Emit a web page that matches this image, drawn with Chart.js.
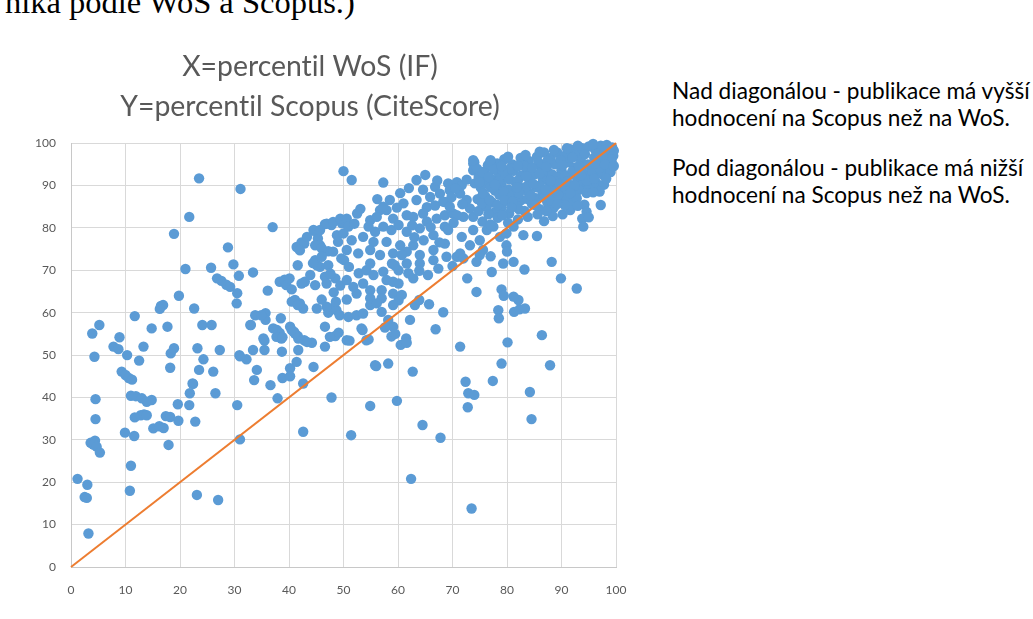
<!DOCTYPE html>
<html>
<head>
<meta charset="utf-8">
<script src="https://cdn.jsdelivr.net/npm/chart.js@4"></script>
<style>
  html, body { margin: 0; padding: 0; }
  body { width: 1033px; height: 619px; overflow: hidden; background: #ffffff; position: relative; }
  #chart { position: absolute; left: 0; top: 0; }
  .cut-heading { position: absolute; left: 5px; top: -14px; font-family: "Liberation Serif", serif; font-size: 32.5px; line-height: 32px; color: #000; white-space: nowrap; }
  .note { position: absolute; left: 672px; font-family: Lato, "Open Sans", sans-serif; font-size: 22.6px; line-height: 27.4px; color: #000; white-space: nowrap; }
</style>
</head>
<body>
<div class="cut-heading">nika podle WoS a Scopus.)</div>
<canvas id="chart" width="643" height="619"></canvas>
<div class="note" style="top: 77px;">Nad diagonálou - publikace má vyšší<br>hodnocení na Scopus než na WoS.</div>
<div class="note" style="top: 153.5px;">Pod diagonálou - publikace má nižší<br>hodnocení na Scopus než na WoS.</div>
<script>
// [x = percentil WoS (IF), y = percentil Scopus (CiteScore)]
const lowerLeft = [
  [1.2,20.8],[3.0,19.4],[2.5,16.5],[2.9,16.3],[3.2,7.9],[4.5,39.6],[4.5,34.9],[3.6,29.3],[4.4,29.8],[4.1,28.9],
  [4.7,28.4],[5.3,27.0],[9.9,31.7],[11.6,30.9],[11.0,23.9],[10.8,18.0],[11.0,40.4],[11.9,40.3],[13.0,39.8],[13.9,39.0],
  [14.8,39.4],[11.7,35.3],[12.8,35.8],[13.4,36.0],[13.9,35.8],[15.1,32.7],[16.2,33.2],[17.0,32.8],[17.4,35.6],[18.2,35.4],
  [19.7,34.5],[17.9,28.8],[19.6,38.4],[21.7,38.2],[21.8,41.0],[22.4,43.2],[22.8,34.3],[23.1,17.0],[27.0,15.8],[26.5,41.0],
  [9.3,46.1],[10.0,45.3],[10.6,44.6],[11.2,44.2],[3.9,55.1],[5.2,57.1],[4.3,49.6],[8.9,54.2],[7.8,52.0],[8.7,51.4],
  [10.3,50.0],[12.5,48.7],[13.3,52.0],[14.8,56.3],[17.7,56.7],[18.3,50.4],[18.9,51.6],[18.2,47.0],[11.7,59.2],[16.5,61.6],
  [16.9,61.8],[16.3,60.9],[19.8,64.0],[21.0,70.3],[18.9,78.6],[21.7,82.6],[23.5,91.7],[22.6,61.0],[23.2,51.6],[24.3,49.0],
  [23.5,46.5],[24.1,57.1],[25.8,57.1],[27.3,51.2],[26.1,46.1],[22.3,43.3],[25.7,70.6],[26.8,68.1],[27.6,67.5],[28.5,66.6],
  [29.2,66.1],[28.8,75.4],[29.8,71.4]
];

const middle = [
  [31.1,89.2],[37.0,80.2],[30.8,68.7],[30.5,64.6],[30.4,62.2],[33.4,69.5],[30.9,50.0],[32.2,49.0],[33.4,51.2],[34.1,46.5],
  [33.6,44.1],[30.5,38.2],[31.0,30.1],[33.0,57.1],[33.8,59.4],[35.7,59.9],[35.7,58.3],[36.1,65.2],[35.5,53.4],[36.6,42.9],
  [37.9,39.8],[38.8,44.6],[38.7,50.8],[37.8,55.9],[38.3,55.2],[38.5,58.7],[38.3,67.3],[39.2,67.8],[39.5,66.5],[40.1,68.1],
  [40.5,65.5],[41.1,63.0],[42.0,62.2],[42.6,61.0],[42.9,67.3],[43.9,68.9],[44.8,66.5],[46.0,63.1],[45.1,61.0],[40.5,62.6],
  [41.6,61.8],[40.2,56.7],[40.9,55.5],[41.6,54.5],[42.8,53.5],[44.2,52.9],[43.3,53.1],[41.7,53.9],[41.1,55.1],[40.5,55.9],
  [38.6,53.9],[37.7,54.3],[37.1,56.3],[35.3,53.9],[35.5,51.2],[34.9,59.4],[32.9,57.1],[31.0,49.7],[41.7,51.2],[40.2,46.9],
  [41.4,48.4],[40.2,45.0],[42.6,43.3],[44.5,47.2],[42.6,31.9],[41.4,75.5],[42.3,76.6],[42.8,76.3],[41.6,71.2],[44.6,79.3],
  [45.3,77.5],[45.7,75.9],[44.8,72.4],[45.7,70.8],[46.6,68.5],[46.6,80.9],[47.2,74.5],[47.2,60.0],[46.6,56.7],[46.6,52.0],
  [47.8,80.7],[49.7,81.1],[44.5,79.5],[44.8,75.9],[46.0,75.2],[45.1,71.2],[46.0,73.2],[47.2,71.2],[46.9,66.9],[48.5,68.1],
  [47.8,61.0],[48.7,60.6],[46.9,61.4],[49.3,59.4],[48.5,54.5],[49.1,55.3],[47.5,54.3],[47.8,40.0],[42.3,66.9],[44.4,71.7],
  [43.3,77.9],[42.0,74.7],[45.7,79.5],[46.9,81.0],[48.1,81.4],[49.4,82.2],[48.8,78.3],[49.0,76.7],[48.1,74.4],[38.8,54.2],
  [48.2,64.8],[49.4,66.4],[47.6,69.2],[49.6,72.8],[48.6,62.6]
];

const upperBand = [
  [50.0,93.4],[51.5,91.3],[57.3,90.7],[63.4,91.3],[65.0,92.5],[66.8,89.7],[69.2,90.5],[70.8,90.8],[71.7,90.1],[73.8,95.2],
  [73.8,93.6],[75.0,92.1],[74.1,90.5],[63.4,86.6],[65.3,84.9],[66.8,85.3],[68.6,86.1],[53.1,84.5],[52.5,83.4],[56.7,84.2],
  [57.9,84.2],[50.6,82.2],[54.9,81.8],[56.1,82.6],[59.1,82.2],[61.6,83.0],[62.8,82.6],[54.6,80.3],[55.8,79.1],[57.3,80.3],
  [58.8,79.5],[60.1,80.7],[61.6,79.1],[64.0,79.9],[65.3,81.5],[67.1,82.2],[68.6,83.0],[68.6,80.3],[66.5,78.3],[64.7,77.1],
  [62.8,75.9],[60.4,75.9],[57.9,76.7],[55.5,76.7],[53.6,77.9],[51.5,77.1],[50.0,78.7],[50.6,74.8],[52.7,74.0],[54.9,74.8],
  [56.7,73.6],[59.1,74.0],[61.6,74.4],[64.0,73.6],[66.5,74.8],[68.6,76.3],[50.9,80.3],[61.0,85.8],[65.9,87.3],[67.7,88.1],
  [69.5,88.9],[71.4,88.1],[72.6,86.6],[64.6,83.4],[70.1,83.4],[72.0,82.6],[57.3,85.0],[58.5,86.6],[70.5,89.3],[68.3,86.2],
  [69.5,85.0],[70.8,83.0],[73.2,84.6],[73.8,82.6],[69.2,79.5],[71.7,77.9],[73.2,75.9],[70.8,73.2],[73.8,79.5],[75.0,77.1],
  [76.3,79.5],[77.5,80.3],[75.6,74.8],[78.7,77.9],[79.9,78.7],[81.2,80.3],[83.0,78.3],[85.5,78.1],[79.9,75.9],[50.1,72.4],
  [51.0,70.8],[50.6,67.7],[52.8,69.3],[54.2,70.0],[54.9,71.6],[55.5,68.9],[57.3,69.7],[57.9,67.7],[58.9,71.6],[60.1,70.0],
  [59.1,67.3],[57.0,65.3],[54.9,65.3],[52.4,64.5],[53.6,66.9],[50.6,63.1],[54.9,63.4],[57.0,63.4],[59.1,64.5],[60.1,62.9],
  [51.8,66.1],[50.9,59.0],[52.4,59.4],[53.6,59.8],[54.9,61.8],[56.1,62.2],[57.0,60.2],[58.2,58.3],[59.1,56.7],[53.3,56.3],
  [54.2,53.5],[50.6,53.5],[55.8,47.6],[58.2,48.0],[54.9,38.0],[59.8,39.2],[60.7,73.6],[68.9,73.2],[71.4,74.0],[75.0,73.6],
  [74.4,72.0],[59.4,71.2],[61.6,71.6],[64.0,71.6],[66.5,72.4],[67.4,70.4],[60.1,66.9],[61.9,69.3],[62.8,68.1],[60.7,64.2],
  [59.1,61.8],[65.5,68.9],[63.9,69.9],[70.0,71.0],[72.0,72.8],[52.0,81.0],[59.8,84.8],[62.6,80.6],[66.0,80.2],[63.0,77.8],
  [67.6,76.6],[70.2,81.2],[71.8,85.6],[69.8,87.2],[72.6,91.4],[67.2,91.2],[56.2,86.8],[60.4,88.2],[62.0,89.4],[64.6,89.0]
];

const topCluster = [
  [74.0,95.5],[74.5,94.0],[76.5,94.8],[78.2,95.2],[79.5,96.2],[81.0,95.0],[82.5,96.5],[84.0,95.8],[85.5,96.8],[86.8,97.8],
  [88.0,96.5],[89.2,97.8],[90.5,97.0],[91.6,98.6],[92.8,97.6],[93.8,98.8],[95.0,99.2],[96.2,98.4],[97.2,99.4],[98.3,99.6],
  [99.3,99.0],[99.6,98.2],[98.8,97.6],[74.8,92.0],[76.0,92.8],[77.2,91.5],[78.5,93.0],[79.8,92.2],[81.2,93.5],[82.6,92.4],
  [83.8,93.8],[85.0,92.6],[86.2,94.5],[87.5,93.2],[88.8,95.0],[90.0,93.6],[91.2,95.5],[92.4,94.2],[93.5,96.2],[94.8,95.0],
  [96.0,96.6],[97.2,95.6],[98.4,96.8],[99.2,95.5],[75.2,89.5],[76.4,90.6],[77.8,88.8],[79.0,90.2],[80.3,89.0],[81.6,90.8],
  [82.9,89.4],[84.2,91.0],[85.4,89.6],[86.6,91.4],[87.9,90.0],[89.1,92.0],[90.4,90.6],[91.7,92.6],[92.9,91.2],[94.0,93.0],
  [95.3,92.0],[96.6,93.6],[97.6,92.5],[98.6,94.0],[74.6,86.8],[76.0,87.5],[77.3,86.0],[78.6,87.8],[80.0,86.4],[81.4,88.0],
  [82.6,86.6],[84.0,88.3],[85.3,87.0],[86.5,88.6],[87.8,87.4],[89.0,89.2],[90.2,88.0],[91.4,89.6],[92.6,88.4],[93.9,90.2],
  [95.2,89.7],[96.4,90.6],[97.8,90.2],[74.8,84.0],[76.2,85.0],[77.6,83.6],[79.0,84.8],[80.4,83.4],[81.8,85.2],[83.2,84.0],
  [84.6,85.6],[86.0,84.4],[87.4,86.0],[88.6,84.8],[89.8,86.4],[91.0,87.0],[92.2,86.0],[94.2,85.5],[97.2,85.4],[94.6,83.8],
  [93.8,82.2],[75.5,81.5],[77.0,80.8],[78.3,82.4],[80.2,81.2],[82.0,82.0],[86.8,81.6],[88.4,82.8],[90.2,83.2],[91.6,84.2],
  [94.0,80.3],[95.0,82.5],[73.8,96.0],[76.9,95.6],
  [75.5,93.2],[77.6,93.8],[80.6,94.0],[83.2,94.6],[85.8,95.4],[87.4,95.8],[89.8,96.0],[92.0,96.6],[94.3,97.4],[96.8,97.6],
  [98.0,98.4],[99.5,97.0],[76.7,92.0],[78.4,91.0],[80.5,91.4],[82.0,91.2],[83.5,92.2],[86.0,92.8],[88.3,92.6],[90.6,92.4],
  [92.0,93.4],[93.2,94.6],[95.6,93.6],[97.0,94.2],[99.0,93.2],[75.6,88.2],[77.0,89.6],[79.4,88.6],[80.9,87.4],[82.2,88.2],
  [83.6,89.8],[86.0,90.0],[88.4,88.6],[89.6,90.4],[90.8,89.2],[93.2,89.0],[94.6,91.2],[96.0,91.6],[97.0,88.6],[98.2,91.6],
  [75.4,85.8],[76.8,86.6],[78.3,85.4],[79.6,86.6],[81.0,86.2],[82.2,84.4],[83.8,86.8],[85.2,85.4],[86.8,87.2],[88.1,86.4],
  [89.4,87.8],[90.6,85.4],[92.8,87.0],[99.0,96.2],[97.6,97.0],
  [75.0,90.8],[77.8,90.2],[79.2,93.6],[81.8,89.6],[84.8,90.4],[87.0,89.0],[88.0,91.2],[91.0,91.0],[92.4,90.0],[94.6,88.2],
  [96.2,95.2],[98.0,95.0],[99.6,94.6],[95.8,88.4],[93.6,92.4],[90.2,94.8],[87.2,94.4],[84.6,94.2],[82.0,94.6],[79.0,94.6],
  [77.0,96.0],[80.2,96.8],[83.4,97.2],[86.0,98.0],[88.6,98.4],[91.0,98.8],[93.0,99.4],[95.8,99.8],[85.6,83.2],[83.8,82.6],
  [79.2,83.0],[76.6,83.2],[89.2,85.6],[91.6,88.2],[80.8,84.8],[84.4,87.6],[87.2,84.0],[93.0,85.2]
];

const belowDiagonal = [
  [51.4,31.1],[64.5,33.5],[67.8,30.5],[62.4,20.8],[73.5,13.8],[72.4,43.7],[77.4,43.9],[72.9,41.0],[74.0,40.6],[72.8,37.7],
  [84.2,41.3],[84.5,34.9],[62.7,46.1],[56.0,47.4],[79.0,48.0],[87.9,47.6],[86.4,54.7],[80.1,53.0],[71.4,52.0],[66.9,56.1],
  [58.8,54.4],[60.5,52.4],[61.5,53.9],[62.2,58.3],[57.6,56.5],[68.3,60.1],[65.7,62.0],[63.1,61.8],[63.9,63.0],[78.4,60.6],
  [78.5,58.7],[81.3,60.2],[82.3,60.8],[83.3,61.0],[82.1,63.0],[79.0,65.5],[79.4,64.0],[81.2,63.8],[74.4,64.9],[72.7,68.1],
  [77.2,69.6],[81.2,72.0],[83.2,70.2],[88.2,72.0],[89.9,68.1],[92.8,65.7],[77.0,73.3],[80.0,74.4],[79.3,71.6],[51.1,53.4],
  [53.5,55.9],[54.6,53.7],[59.5,55.0],[61.6,52.9]
];

const diagonal = [[0, 0], [100, 100]];
const titleLines = ['X=percentil WoS (IF)', 'Y=percentil Scopus (CiteScore)'];
const axisMin = 0;
const axisMax = 100;
const axisStep = 10;

const allPublications = [...lowerLeft, ...middle, ...upperBand, ...topCluster, ...belowDiagonal];
const toXY = ([x, y]) => ({ x, y });

const tickFont = { family: 'Lato, "Open Sans", sans-serif', size: 12 };
const gridColor = '#d9d9d9';

// Calibri in the original has no "ti" ligature, so switch ligatures off
const plainText = {
  id: 'plainText',
  beforeDraw(chart) { chart.ctx.textRendering = 'optimizeSpeed'; }
};

new Chart(document.getElementById('chart'), {
  type: 'scatter',
  data: {
    datasets: [
      {
        type: 'line',
        data: diagonal.map(toXY),
        borderColor: '#ED7D31',
        borderWidth: 2,
        pointRadius: 0,
        order: 0,
        clip: false
      },
      {
        data: allPublications.map(toXY),
        backgroundColor: '#5B9BD5',
        borderWidth: 0,
        pointRadius: 5.2,
        order: 1,
        clip: false
      }
    ]
  },
  options: {
    responsive: false,
    animation: false,
    layout: { padding: { left: 4, right: 27, top: 0, bottom: 0 } },
    plugins: {
      legend: { display: false },
      tooltip: { enabled: false },
      title: {
        display: true,
        text: titleLines,
        color: '#595959',
        font: { family: 'Lato, "Open Sans", sans-serif', size: 28.4, weight: 'normal', lineHeight: 1.42 },
        padding: { top: 46.5, bottom: 16 }
      }
    },
    scales: {
      x: {
        type: 'linear',
        min: axisMin,
        max: axisMax,
        ticks: { stepSize: axisStep, padding: 16, color: '#595959', font: tickFont },
        grid: { color: gridColor, drawTicks: false },
        border: { color: '#c8c8c8' },
        afterFit: scale => { scale.height = 52; }
      },
      y: {
        type: 'linear',
        min: axisMin,
        max: axisMax,
        ticks: { stepSize: axisStep, padding: 15, color: '#595959', font: tickFont },
        grid: { color: gridColor, drawTicks: false },
        border: { color: '#c8c8c8' },
        afterFit: scale => { scale.width = 67; }
      }
    }
  },
  plugins: [plainText]
});
</script>
</body>
</html>
